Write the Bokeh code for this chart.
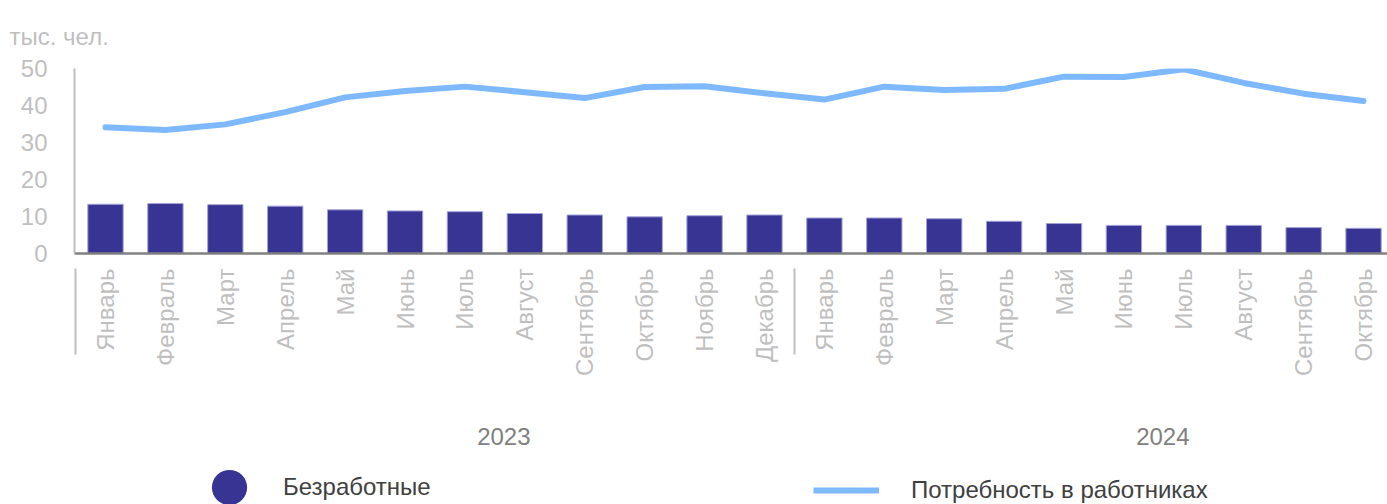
import math
from bokeh.plotting import figure
from bokeh.layouts import column
from bokeh.models import Range1d, FixedTicker, Legend, LegendItem, ColumnDataSource, LinearAxis
from bokeh.embed import file_html
from bokeh.resources import INLINE

# ---- data ----
months_2023 = ["Январь", "Февраль", "Март", "Апрель", "Май", "Июнь", "Июль",
               "Август", "Сентябрь", "Октябрь", "Ноябрь", "Декабрь"]
months_2024 = ["Январь", "Февраль", "Март", "Апрель", "Май", "Июнь", "Июль",
               "Август", "Сентябрь", "Октябрь"]
years = ["2023", "2024"]
unemployed = [13.3, 13.5, 13.2, 12.8, 11.8, 11.5, 11.3, 10.8, 10.4, 9.9, 10.2, 10.4,
              9.6, 9.6, 9.4, 8.7, 8.1, 7.6, 7.6, 7.6, 7.0, 6.8]
demand = [34.1, 33.4, 34.9, 38.2, 42.2, 43.9, 45.1, 43.6, 42.0, 45.0, 45.2, 43.3,
          41.6, 45.1, 44.2, 44.5, 47.8, 47.7, 49.8, 46.1, 43.2, 41.2]
y_ticks = [0, 10, 20, 30, 40, 50]
unit_label = "тыс. чел."
series_names = ["Безработные", "Потребность в работниках"]

months = months_2023 + months_2024
idx = list(range(len(months)))
groups = [months_2023, months_2024]

FONT = "Liberation Sans"
BAR = "#373494"
LINE = "#7EB9FF"
LIGHT = "#BFBFBF"
W = 1387
H_MAIN = 462
H_LEG = 42

src = ColumnDataSource(dict(x=idx, month=months, unemployed=unemployed, demand=demand))

p = figure(width=W, height=H_MAIN, output_backend="svg", toolbar_location=None,
           x_range=Range1d(-0.5175, 21.40), y_range=Range1d(0, 50),
           min_border_top=68, min_border_bottom=H_MAIN - 68 - 185, min_border_left=74,
           min_border_right=0)
p.outline_line_color = None
p.xgrid.visible = False
p.ygrid.visible = False

# unit label as the title
p.title.text = unit_label
p.title.align = "left"
p.title.vertical_align = "top"
p.title.text_font = FONT
p.title.text_font_size = "24px"
p.title.text_font_style = "normal"
p.title.text_color = LIGHT
p.title.offset = -65
p.title.standoff = 34

p.vbar(x="x", top="unemployed", width=0.59, source=src,
       fill_color=BAR, line_color="#A3A1D8", line_width=1)
p.line(x="x", y="demand", source=src, line_color=LINE, line_width=6,
       line_cap="round", line_join="round")

# y axis
ya = p.yaxis[0]
ya.ticker = FixedTicker(ticks=y_ticks)
ya.axis_line_color = LIGHT
ya.axis_line_width = 2
ya.major_tick_line_color = None
ya.minor_tick_line_color = None
ya.major_label_text_font = FONT
ya.major_label_text_font_size = "24px"
ya.major_label_text_color = LIGHT
ya.major_label_standoff = 21

# x axis with month labels; minor ticks used as year-group separators
bounds = []
centers = []
start = 0
for g in groups:
    bounds.append(start - 0.5)
    centers.append(start - 0.5 + len(g) / 2 + 1.15)
    start += len(g)

xa = p.xaxis[0]
xa.ticker = FixedTicker(ticks=idx, minor_ticks=bounds)
xa.major_label_overrides = {i: m for i, m in enumerate(months)}
xa.major_label_orientation = math.pi / 2
xa.major_label_text_font = FONT
xa.major_label_text_font_size = "24px"
xa.major_label_text_color = LIGHT
xa.major_label_standoff = 0
xa.axis_line_color = "#808080"
xa.axis_line_width = 2.5
xa.major_tick_line_color = None
xa.minor_tick_line_color = LIGHT
xa.minor_tick_line_width = 2
xa.minor_tick_in = -101
xa.minor_tick_out = 15

# year axis
ax_year = LinearAxis(ticker=FixedTicker(ticks=centers, minor_ticks=[]),
                     major_label_overrides={c: y for c, y in zip(centers, years)})
ax_year.axis_line_color = None
ax_year.major_tick_line_color = None
ax_year.minor_tick_line_color = None
ax_year.major_label_text_font = FONT
ax_year.major_label_text_font_size = "24px"
ax_year.major_label_text_color = "#808080"
ax_year.major_label_standoff = 42
p.add_layout(ax_year, "below")

# legend figure (its frame is aligned with the chart frame by the column layout)
lf = figure(width=W, height=H_LEG, output_backend="svg", toolbar_location=None,
            x_range=Range1d(-100, -90), y_range=Range1d(-100, -90),
            min_border=0, min_border_left=0, min_border_right=0,
            min_border_top=0, min_border_bottom=0)
lf.axis.visible = False
lf.grid.visible = False
lf.outline_line_color = None
lf.title.visible = False
dot = lf.scatter(x="x", y="unemployed", source=src, marker="circle", size=10,
                 fill_color=BAR, line_color=None)
seg = lf.line(x="x", y="demand", source=src, line_color=LINE, line_width=6)

common = dict(orientation="horizontal", padding=0, margin=0, border_line_alpha=0,
              background_fill_alpha=0, label_text_font=FONT, label_text_font_size="24px",
              label_text_color="#404040")
leg1 = Legend(items=[LegendItem(label=series_names[0], renderers=[dot])],
              location=(111, -27), glyph_width=88, glyph_height=88, label_standoff=10,
              **common)
leg2 = Legend(items=[LegendItem(label=series_names[1], renderers=[seg])],
              location=(739, -6), glyph_width=66, glyph_height=40, label_height=40,
              label_standoff=32, **common)
lf.add_layout(leg1)
lf.add_layout(leg2)

layout = column(p, lf, spacing=0)
open("out.html", "w").write(file_html(layout, INLINE))
